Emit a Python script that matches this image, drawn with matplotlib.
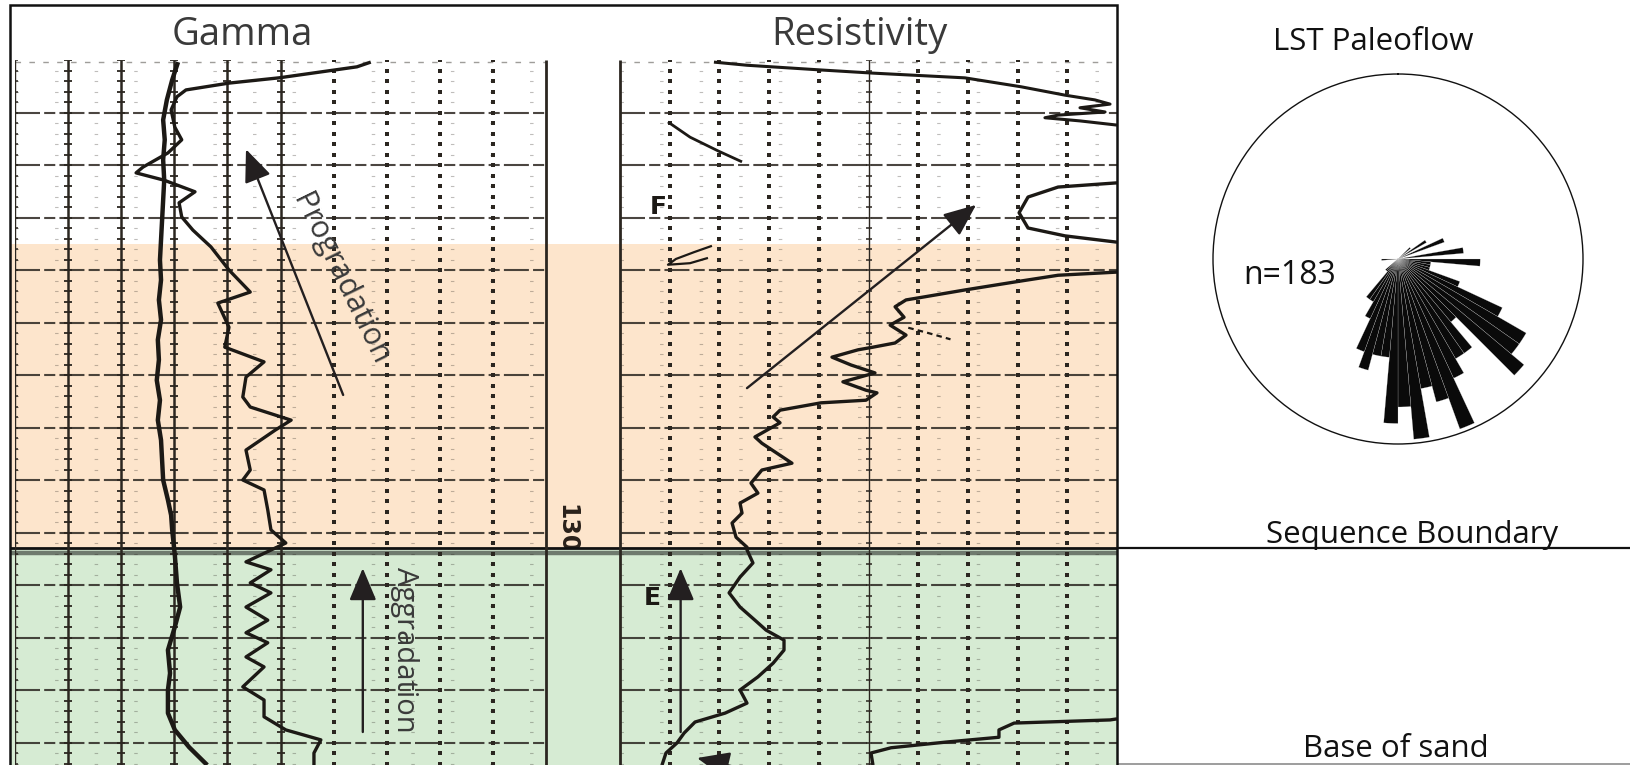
import numpy as np
import matplotlib
matplotlib.use("Agg")
import matplotlib.pyplot as plt
from matplotlib.patches import Rectangle
from matplotlib.lines import Line2D

plt.rcParams['font.family'] = ['Open Sans', 'DejaVu Sans']
plt.rcParams['lines.scale_dashes'] = False
plt.rcParams['lines.solid_capstyle'] = 'butt'

# ---------------------------------------------------------------- data
# Gamma ray (API, 0-100 track) against depth (ft)
gamma1_depth = [1210.4, 1213.8, 1217.6, 1221.4, 1225.2, 1229.0, 1232.9, 1236.7, 1240.5,
                1244.3, 1248.1, 1251.9, 1255.7, 1259.5, 1263.3, 1267.1, 1271.0, 1274.8,
                1278.6, 1282.4, 1286.2, 1290.0, 1293.8, 1296.7, 1299.5, 1304.3, 1309.6,
                1314.2, 1318.0, 1322.4, 1326.8, 1330.0, 1334.4, 1337.6, 1340.9, 1344.3]
gamma1 = [30.7, 29.6, 28.6, 27.9, 28.2, 27.9, 28.1, 27.9, 27.7,
          27.5, 27.3, 27.5, 27.1, 27.5, 26.9, 27.1, 26.7, 27.3,
          26.9, 27.5, 27.7, 27.9, 28.8, 29.4, 29.6, 30.1, 30.5,
          31.1, 30.1, 28.8, 29.2, 28.8, 28.8, 30.1, 32.8, 36.2]

gamma2_depth = [1210.4, 1211.3, 1213.4, 1214.4, 1215.7, 1217.0, 1219.5, 1222.8, 1225.2,
                1227.7, 1230.4, 1231.5, 1232.9, 1235.1, 1237.2, 1239.9, 1242.4, 1245.6,
                1250.0, 1254.2, 1256.3, 1260.9, 1264.7, 1267.5, 1270.4, 1274.2, 1276.1,
                1278.6, 1280.5, 1284.3, 1288.1, 1290.0, 1291.9, 1295.7, 1299.5, 1302.0,
                1305.6, 1307.1, 1309.6, 1311.5, 1314.2, 1316.7, 1319.1, 1321.0, 1323.7,
                1325.6, 1329.4, 1331.9, 1335.1, 1337.6, 1339.5, 1342.0, 1344.3]
gamma2 = [67.0, 64.4, 49.7, 40.3, 32.2, 30.5, 29.4, 30.1, 31.4,
          28.8, 24.1, 22.8, 28.1, 33.9, 30.9, 31.4, 33.5, 36.9,
          40.3, 44.3, 38.2, 40.3, 39.5, 46.9, 43.5, 42.9, 44.3,
          52.0, 49.0, 43.5, 44.3, 42.9, 46.9, 47.6, 48.2, 51.0,
          43.5, 48.2, 44.3, 48.2, 43.5, 47.6, 43.5, 47.6, 43.5,
          46.9, 42.9, 46.9, 46.9, 51.0, 57.6, 56.3, 56.3]

# Resistivity (ohm-m, 0-20 track) trace segments against depth (ft)
res_top_depth = [1210.4, 1211.0, 1211.9, 1212.5, 1213.4, 1215.1, 1216.7, 1217.6,
                 1218.4, 1219.1, 1219.9, 1220.5, 1221.0, 1221.6, 1222.4]
res_top = [3.78, 5.11, 8.09, 10.18, 13.88, 16.14, 17.91, 19.11,
           19.72, 18.51, 19.52, 17.63, 17.10, 18.51, 20.0]

res_loop_depth = [1233.4, 1234.2, 1236.1, 1239.1, 1242.0, 1243.5, 1244.7]
res_loop = [20.0, 17.63, 16.42, 16.06, 16.42, 17.91, 20.0]

res_kick_depth = [1221.8, 1224.7, 1227.3, 1229.4]
res_kick = [1.93, 2.82, 3.94, 4.91]

res_squiggle_depth = [1245.4, 1246.6, 1247.9, 1249.0, 1248.7, 1247.7]
res_squiggle = [3.70, 2.98, 2.25, 1.93, 2.82, 3.54]

res_main_depth = [1250.4, 1251.0, 1252.3, 1253.8, 1255.1, 1255.7, 1257.0, 1259.0, 1260.5,
                  1262.4, 1263.9, 1264.7, 1265.2, 1266.6, 1268.1, 1269.6, 1271.3, 1272.9,
                  1273.4, 1274.8, 1275.3, 1276.7, 1278.0, 1279.1, 1281.8, 1283.0, 1286.8,
                  1288.1, 1290.6, 1292.5, 1294.4, 1296.3, 1298.2, 1300.9, 1302.8, 1303.3,
                  1305.8, 1308.5, 1311.5, 1314.2, 1316.7, 1318.6, 1320.5, 1322.4, 1324.9,
                  1327.5, 1330.0, 1332.5, 1334.4, 1336.1, 1338.2, 1340.1, 1342.0, 1344.3]
res_main = [20.0, 17.63, 15.86, 13.88, 12.27, 11.51, 11.07, 11.43, 10.87,
            11.51, 11.07, 10.18, 9.58, 8.53, 9.30, 10.26, 8.97, 9.90,
            10.34, 9.90, 8.09, 6.44, 6.16, 6.44, 5.43, 5.71, 6.92,
            5.71, 5.27, 5.55, 4.83, 4.91, 4.51, 4.67, 5.11, 5.11,
            5.35, 4.83, 4.39, 4.83, 5.43, 5.88, 6.60, 6.60, 6.16,
            5.55, 4.83, 5.11, 4.23, 3.02, 2.58, 2.29, 1.85, 1.69]

res_base_depth = [1335.5, 1335.7, 1336.3, 1337.6, 1339.0, 1339.9, 1341.0, 1342.0, 1344.3]
res_base = [20.0, 19.72, 15.86, 15.25, 15.25, 13.16, 10.91, 10.10, 10.18]

res_dash_depth = [1261.0, 1262.0, 1263.2]
res_dash = [11.6, 12.4, 13.3]

# Interval tops (ft)
lst_top = 1245.0
sequence_boundary = 1303.0
depth_label = 1300

# Paleocurrent rose: bin-centre azimuth (deg) and measurement count per 5-deg bin
rose_azimuth = [47.5, 57.5, 67.5, 82.5, 92.5, 97.5, 102.5, 107.5, 112.5, 117.5, 122.5,
                127.5, 132.5, 137.5, 142.5, 147.5, 152.5, 157.5, 162.5, 167.5, 172.5,
                177.5, 182.5, 187.5, 192.5, 197.5, 202.5, 207.5, 212.5, 217.5, 222.5,
                227.5, 267.5]
rose_count = [1, 2, 3, 4, 5, 2, 2, 2, 4, 7, 9,
              9, 10, 5, 7, 7, 8, 11, 9, 8, 11,
              9, 10, 6, 6, 7, 6, 4, 3, 3, 1,
              1, 1]

# ---------------------------------------------------------------- layout
W, H, DPI = 1630, 765, 100
fig = plt.figure(figsize=(W / DPI, H / DPI), dpi=DPI)
fig.patch.set_facecolor('white')


def box(x0, y0, x1, y1):
    return [x0 / W, 1 - y1 / H, (x1 - x0) / W, (y1 - y0) / H]


def fig_xy(x, y):
    return x / W, 1 - y / H


LOG_TOP, LOG_BOTTOM = 60, 765
PX_PER_FT = 5.25
depth_top = 1210.0
depth_bottom = depth_top + (LOG_BOTTOM - LOG_TOP) / PX_PER_FT

ORANGE = '#fde5cc'
GREEN = '#d6ebd3'
GRID = '#2b2620'
CURVE = '#1c1915'
ARROW = '#231f20'
TEXT = '#3a3a3a'
NARROW = ['Liberation Sans Narrow', 'DejaVu Sans']

major_depths = np.arange(1220, 1345, 10)
minor_depths = np.array([d for d in np.arange(1212, 1345, 2) if d % 10 != 0])
tick_depths = np.arange(1210, 1345, 2)

# background: shaded intervals and the depth column
ax_bg = fig.add_axes(box(10, LOG_TOP, 1117, LOG_BOTTOM))
ax_bg.set_xlim(0, 1)
ax_bg.set_ylim(depth_bottom, depth_top)
ax_bg.set_axis_off()
ax_bg.axhspan(lst_top, sequence_boundary, color=ORANGE, lw=0, zorder=0)
ax_bg.text(0.503, depth_label + 0.9, str(depth_label), rotation=-90, ha='center',
           va='center', fontsize=17, fontweight='bold', color='#2a211a',
           family=NARROW, zorder=1)
ax_bg.axhspan(sequence_boundary, depth_bottom, color=GREEN, lw=0, zorder=2)
ax_bg.axhline(sequence_boundary + 0.9, color='#5d665d', lw=3.2, alpha=0.85, zorder=2.5)
ax_bg.axhline(sequence_boundary, color='#111111', lw=2.0, zorder=3)


def make_track(x0, x1, xmax):
    ax = fig.add_axes(box(x0, LOG_TOP, x1, LOG_BOTTOM))
    ax.set_xlim(0, xmax)
    ax.set_ylim(depth_bottom, depth_top)
    ax.set_axis_off()
    return ax


def draw_grid(ax, heavy, light, dotted):
    for d in major_depths:
        ax.axhline(d, color=GRID, lw=1.5, ls=(0, (18, 3, 8, 3)), alpha=0.85, zorder=2)
    ax.axhline(depth_top + 0.4, color=GRID, lw=1.0, ls=(0, (4, 6)), alpha=0.45, zorder=2)
    for d in minor_depths:
        ax.axhline(d, color=GRID, lw=0.8, ls=(0, (2.5, 26)), alpha=0.3, zorder=2)
    for x in heavy:
        ax.axvline(x, color=GRID, lw=1.8, zorder=2)
        ax.plot([x] * len(tick_depths), tick_depths, ls='none', marker='_', ms=6,
                mew=1.3, color=GRID, zorder=2)
    for x in light:
        ax.axvline(x, color=GRID, lw=1.0, zorder=2)
        ax.plot([x] * len(tick_depths), tick_depths, ls='none', marker='_', ms=5,
                mew=1.1, color=GRID, zorder=2)
    for x in dotted:
        ax.plot([x] * len(tick_depths), tick_depths, ls='none', marker='s', ms=2.4,
                mew=0, color=GRID, zorder=2)


# gamma track
ax_g = make_track(15, 546, 100)
draw_grid(ax_g, heavy=[10, 20, 30, 40, 50], light=[0], dotted=[60, 70, 80, 90])
ax_g.axvline(100, color=GRID, lw=2.0, zorder=3, clip_on=False)
ax_g.plot(gamma1, gamma1_depth, color=CURVE, lw=3.2, zorder=4)
ax_g.plot(gamma2, gamma2_depth, color=CURVE, lw=2.4, zorder=4)

# resistivity track
ax_r = make_track(620, 1117, 20)
draw_grid(ax_r, heavy=[], light=[10], dotted=[2, 4, 6, 8, 12, 14, 16, 18])
ax_r.axvline(0, color=GRID, lw=2.0, zorder=3, clip_on=False)
for xs, ds, lw in [(res_top, res_top_depth, 2.2), (res_loop, res_loop_depth, 2.4),
                   (res_kick, res_kick_depth, 2.0), (res_squiggle, res_squiggle_depth, 1.6),
                   (res_main, res_main_depth, 2.4), (res_base, res_base_depth, 2.4)]:
    ax_r.plot(xs, ds, color=CURVE, lw=lw, zorder=4)
ax_r.plot(res_dash, res_dash_depth, color=CURVE, lw=1.6, ls=(0, (4, 3)), zorder=4)
ax_r.text(1.53, 1238.0, 'F', fontsize=18, fontweight='bold', family=NARROW,
          color=CURVE, ha='center', va='center', zorder=4)
ax_r.text(1.30, 1312.5, 'E', fontsize=18, fontweight='bold', family=NARROW,
          color=CURVE, ha='center', va='center', zorder=4)

# interpretation arrows
arrow_kw = dict(arrowstyle='-|>,head_length=1.0,head_width=0.42', mutation_scale=20,
                lw=1.7, color=ARROW, shrinkA=0, shrinkB=0)
ax_g.annotate('', xy=(43.5, 1227.0), xytext=(61.8, 1273.8), arrowprops=arrow_kw, zorder=5)
ax_g.text(61.2, 1251.8, 'Progradation', rotation=-64, rotation_mode='anchor',
          ha='center', va='center', fontsize=22, color=TEXT, zorder=5)
ax_g.annotate('', xy=(65.5, 1306.8), xytext=(65.5, 1338.0), arrowprops=arrow_kw, zorder=5)
ax_g.text(73.4, 1322.4, 'Aggradation', rotation=-90, ha='center', va='center',
          fontsize=21, color=TEXT, zorder=5)
ax_r.annotate('', xy=(14.33, 1237.6), xytext=(5.11, 1272.5), arrowprops=arrow_kw, zorder=5)
ax_r.annotate('', xy=(2.44, 1306.8), xytext=(2.44, 1338.0), arrowprops=arrow_kw, zorder=5)
ax_r.annotate('', xy=(3.10, 1342.95), xytext=(7.24, 1347.6), arrowprops=arrow_kw,
              annotation_clip=False, zorder=5)

# frame around the log panel and track titles
fig.add_artist(Rectangle(fig_xy(10, 770), (1117 - 10) / W, (770 - 5) / H, fill=False,
                         lw=1.8, ec='#111111', transform=fig.transFigure, zorder=10))
fig.text(*fig_xy(242, 35), 'Gamma', ha='center', va='center', fontsize=27.5, color=TEXT)
fig.text(*fig_xy(859, 35), 'Resistivity', ha='center', va='center', fontsize=27.5,
         color=TEXT)

# surfaces continued to the right
y_sb = LOG_TOP + (sequence_boundary - depth_top) * PX_PER_FT
fig.add_artist(Line2D([1117 / W, 1], [1 - y_sb / H] * 2, color='#111111', lw=1.6,
                      transform=fig.transFigure))
fig.add_artist(Line2D([1117 / W, 1], [1 - 764 / H] * 2, color='#8c8c8c', lw=1.2,
                      transform=fig.transFigure))
fig.text(*fig_xy(1412, 535), 'Sequence Boundary', ha='center', va='center',
         fontsize=22.5, color='#111111')
fig.text(*fig_xy(1396, 749), 'Base of sand', ha='center', va='center',
         fontsize=22.5, color='#111111')

# paleoflow rose diagram
RMAX = 11.25
ax_rose = fig.add_axes(box(1213, 74, 1583, 444), projection='polar')
ax_rose.set_theta_zero_location('N')
ax_rose.set_theta_direction(-1)
ax_rose.set_ylim(0, RMAX)
ax_rose.bar(np.deg2rad(rose_azimuth), rose_count, width=np.deg2rad(5.0),
            color='#0a0a0a', edgecolor='#d8d8d8', linewidth=0.15, align='center')
ax_rose.grid(False)
ax_rose.set_xticks([])
ax_rose.set_yticks([])
ax_rose.spines['polar'].set_linewidth(1.0)
ax_rose.spines['polar'].set_color('#111111')
fig.text(*fig_xy(1373, 42), 'LST Paleoflow', ha='center', va='center', fontsize=22.5,
         color='#111111')
fig.text(*fig_xy(1290, 275), f'n={sum(rose_count)}', ha='center', va='center',
         fontsize=23, color='#111111')

fig.savefig('out.png', dpi=DPI, facecolor='white')
